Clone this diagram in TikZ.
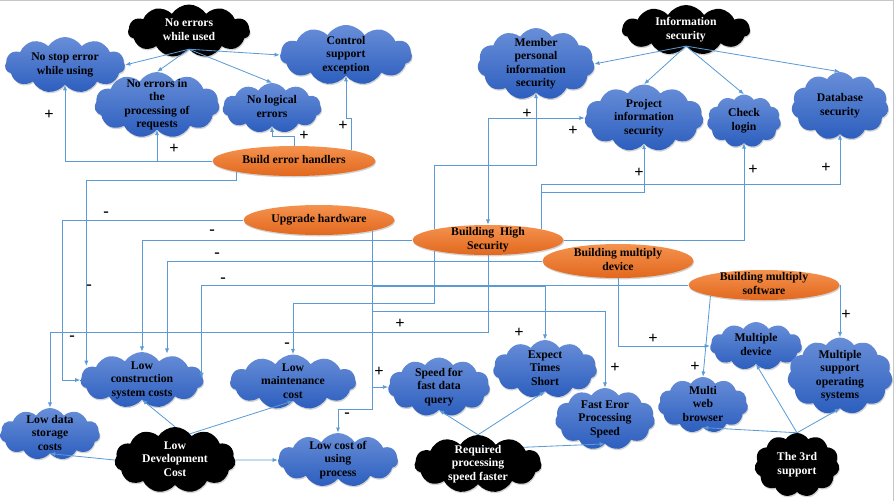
\documentclass[tikz,border=0pt]{standalone}
\usepackage{fontspec}
\setmainfont{Liberation Serif}
\usepackage{tikz}
\usetikzlibrary{arrows.meta,positioning,shapes.symbols,shapes.geometric,shadows,calc}
\definecolor{cloudTop}{RGB}{104,142,216}
\definecolor{cloudBottom}{RGB}{44,94,190}
\definecolor{orangeTop}{RGB}{244,146,78}
\definecolor{orangeBottom}{RGB}{226,104,30}
\definecolor{linkBlue}{RGB}{91,155,213}
\newcommand{\ctext}[1]{\smash{\makebox[0pt]{\raisebox{-2.5pt}{\begin{tabular}{@{}c@{}}#1\end{tabular}}}}}

\begin{document}
\begin{tikzpicture}[x=0.03cm,y=-0.03cm,>={Latex[length=4.5pt,width=3.5pt]},
  cloudbase/.style 2 args={cloud,cloud puffs=11,cloud puff arc=115,cloud ignores aspect,
    inner sep=0pt,minimum width=#1*0.3mm,minimum height=#2*0.3mm,
    font=\bfseries\fontsize{10}{11.5}\selectfont,
    drop shadow={opacity=0.35,shadow xshift=0.6pt,shadow yshift=-1.2pt}},
  blueCloud/.style 2 args={cloudbase={#1}{#2},top color=cloudTop,bottom color=cloudBottom,text=black},
  blackCloud/.style 2 args={cloudbase={#1}{#2},fill=black,text=white},
  goal/.style={ellipse,minimum width=151*0.3mm,minimum height=30*0.3mm,inner sep=0pt,
    top color=orangeTop,bottom color=orangeBottom,font=\bfseries\fontsize{10}{11.5}\selectfont,
    drop shadow={opacity=0.35,shadow xshift=0.6pt,shadow yshift=-1.2pt}},
  link/.style={->,linkBlue,line width=0.7pt},
  plusSign/.style={font=\bfseries\fontsize{14}{14}\selectfont,inner sep=0pt},
  minusSign/.style={font=\bfseries\fontsize{14}{14}\selectfont,inner sep=0pt}]
  \useasboundingbox (0,0) rectangle (895,501);
  \draw[gray!45] (0,0.5) -- (893.5,0.5) -- (893.5,501);

  \node[blackCloud={122}{53}] (nwu) at (189,31) {\ctext{No errors\\while used}};
  \node[blueCloud={120}{56}] (nse) at (65,65) {\ctext{No stop error\\while using}};
  \node[blueCloud={125}{66}] (nep) at (157,105) {\ctext{No errors in\\the\\processing of\\requests}};
  \node[blueCloud={99}{50}] (nle) at (272,108) {\ctext{No logical\\errors}};
  \node[blueCloud={132}{60}] (cse) at (346,55) {\ctext{Control\\support\\exception}};
  \node[goal,minimum width=163*0.3mm] (beh) at (294,161) {\ctext{Build error handlers}};
  \node[blackCloud={128}{50}] (ins) at (686,30) {\ctext{Information\\security}};
  \node[blueCloud={117}{72}] (mpi) at (536,64) {\ctext{Member\\personal\\information\\security}};
  \node[blueCloud={119}{67}] (pis) at (644,118) {\ctext{Project\\information\\security}};
  \node[blueCloud={74}{53}] (chl) at (744,121) {\ctext{Check\\login}};
  \node[blueCloud={97}{68}] (dbs) at (840,106) {\ctext{Database\\security}};
  \node[goal] (uh) at (319,220) {\ctext{Upgrade hardware}};
  \node[goal] (bhs) at (488,240) {\ctext{Building\ \ High\\Security}};
  \node[goal,minimum height=34*0.3mm] (bmd) at (618,261) {\ctext{Building multiply\\device}};
  \node[goal] (bms) at (764,285) {\ctext{Building multiply\\software}};
  \node[blueCloud={123}{56}] (lcs) at (142,380) {\ctext{Low\\construction\\system costs}};
  \node[blueCloud={126}{55}] (lmc) at (293,382) {\ctext{Low\\maintenance\\cost}};
  \node[blueCloud={100}{52}] (lds) at (50,434) {\ctext{Low data\\storage\\costs}};
  \node[blackCloud={121}{66}] (ldc) at (175,460) {\ctext{Low\\Development\\Cost}};
  \node[blueCloud={120}{54}] (lcu) at (338,460) {\ctext{Low cost of\\using\\process}};
  \node[blueCloud={102}{59}] (sfq) at (439,387) {\ctext{Speed for\\fast data\\query}};
  \node[blueCloud={104}{58}] (ets) at (545,369) {\ctext{Expect\\Times\\Short}};
  \node[blueCloud={100}{62}] (fep) at (605,419) {\ctext{Fast Eror\\Processing\\Speed}};
  \node[blackCloud={127}{58}] (rps) at (478,464) {\ctext{Required\\processing\\speed faster}};
  \node[blueCloud={90}{56}] (mwb) at (703,405) {\ctext{Multi\\web\\browser}};
  \node[blueCloud={92}{48}] (mdv) at (756,346) {\ctext{Multiple\\device}};
  \node[blueCloud={105}{77}] (mso) at (840,376) {\ctext{Multiple\\support\\operating\\systems}};
  \node[blackCloud={85}{64}] (trd) at (797,465) {\ctext{The 3rd\\support}};

  \draw[link] (nwu.south) -- (nse.east);
  \draw[link] (nwu.south) -- (nep.north);
  \draw[link] (nwu.south) -- (nle.north);
  \draw[link] (nwu.south) -- (cse.west);
  \draw[link] (beh.west) -| (nse.south);
  \draw[link] (beh.west) -| (nep.south);
  \draw[link] (beh.north) -- ++(0,-9) -| (nle.south);
  \draw[link] (beh.north east) -- ++(0,-32) -| (cse.south);
  \draw[link] (beh.south west) |- ($(lcs.west)+(6,-200)$) -- ($(lcs.west)+(6,-14)$);

  \draw[link] (ins.south) -- (mpi.east);
  \draw[link] (ins.south) -- (pis.north);
  \draw[link] (ins.south) -- (chl.north);
  \draw[link] (ins.south) -- (dbs.north);

  \draw[link] (uh.west) -- ++(-181,0) |- (lcs.west);
  \draw[link] (uh.south east) |- (sfq.west);
  \draw[link] (uh.south east) |- ($(ets.north)+(0,-53)$) -- (ets.north);
  \draw[link] (uh.south east) |- ($(fep.north)+(0,-76)$) -- (fep.north);
  \draw[link] (uh.south east) |- ($(lcu.north)+(0,-23)$) -- (lcu.north);

  \draw[link] (bhs.west) -| (lcs.north);
  \draw[link] (bhs.north west) -- ++(0,-64) -| (mpi.south);
  \draw[link] (bhs.south west) -- ++(0,53) -| (lmc.north);
  \draw[link,<->] (bhs.north) |- (pis.west);
  \draw[link] (bhs.south) -- ++(0,77) -| (lds.north);
  \draw[link] (bhs.north east) -- ++(0,-45) -| (dbs.south);
  \draw[link] (bhs.north east) -- ++(0,-37) -| (pis.south);
  \draw[link] (bhs.east) -| (chl.south);

  \draw[link] (bmd.west) -| ($(lcs.north)+(25,2)$);
  \draw[link] (bmd.south) |- (mdv.west);
  \draw[link] (bms.west) -| ($(lcs.east)+(-2,-2)$);
  \draw[link] (bms.south west) -- (mwb.north);
  \draw[link] (bms.east) -| (mso.north);

  \draw[link] (trd.north) -- (mdv.south);
  \draw[link] (trd.north) -- (mso.south);
  \draw[link] (trd.north) -- (mwb.south);
  \draw[link] (rps.north) -- (sfq.south);
  \draw[link] (rps.north) -- (ets.south);
  \draw[link] (rps.20) -- (fep.south);
  \draw[link] (ldc.north) -- (lcs.south);
  \draw[link] (ldc.60) -- (lmc.south);
  \draw[link] (ldc.west) -- (lds.south);
  \draw[link] (ldc.east) -- (lcu.west);

  \foreach \x/\y [count=\i] in {49/115,174/149,304/136,343/126,527/114,573/131,639/173,753/170,
    826/168,400/324,519/333,379/372,615/368,653/339,695/367,846/315}
    \node[plusSign] (plus\i) at (\x,\y) {+};
  \foreach \x/\y [count=\i] in {106/214,89/287,212/232,217/255,223/280,72/338,287/345,347/415}
    \node[minusSign] (minus\i) at (\x,\y) {-};
\end{tikzpicture}
\end{document}
